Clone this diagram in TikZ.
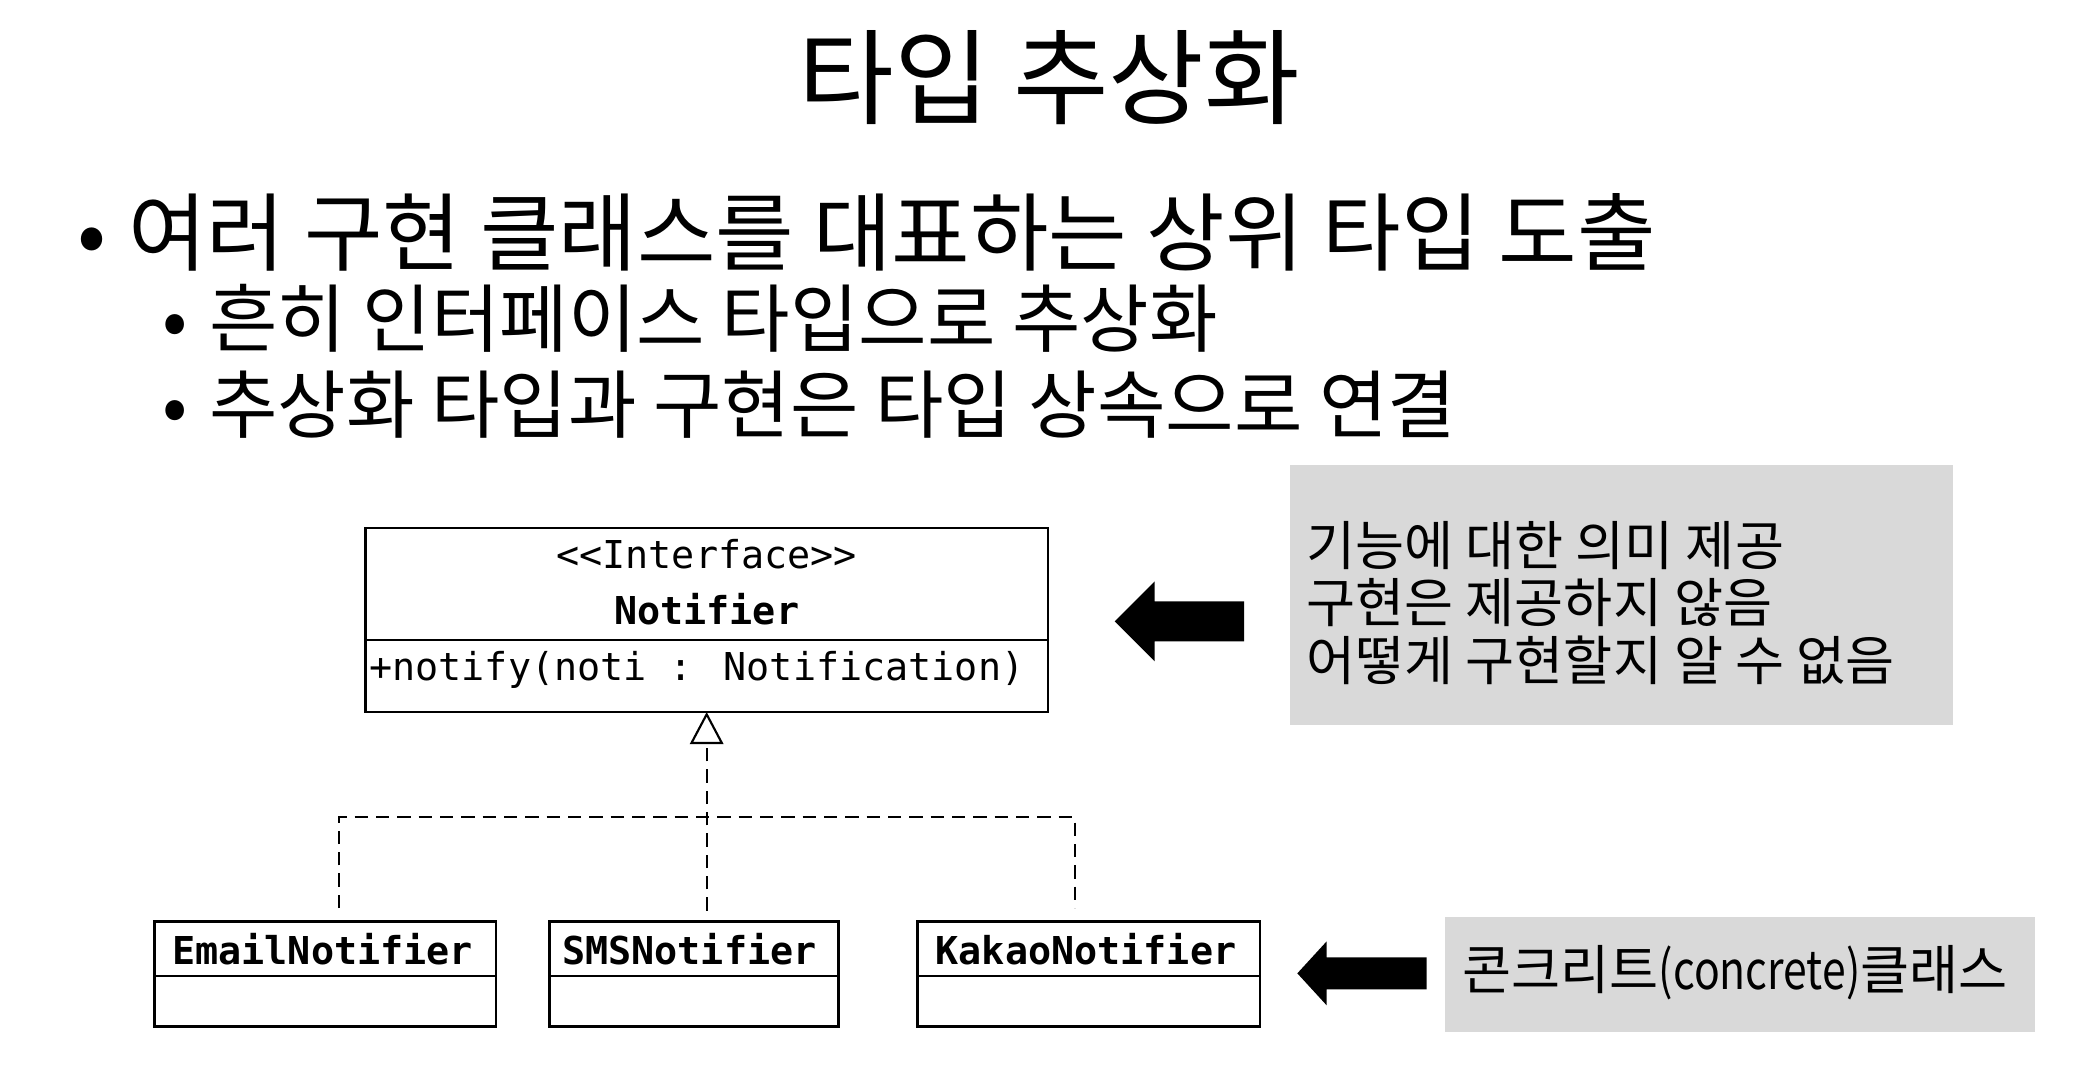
\documentclass[tikz,border=0pt]{standalone}
\usepackage{fontspec}
\newfontfamily\kr{Noto Sans CJK KR}
\newfontfamily\krnarrow[FakeStretch=0.8]{Noto Sans CJK KR}
\newfontfamily\mono{DejaVu Sans Mono}
\usetikzlibrary{arrows.meta}
\definecolor{notegray}{HTML}{D9D9D9}
\tikzset{
  txt/.style={inner sep=0pt, outer sep=0pt, anchor=base west},
  ctxt/.style={inner sep=0pt, outer sep=0pt, anchor=base},
  titlefont/.style={font=\kr\fontsize{39}{44}\selectfont},
  lvlone/.style={font=\kr\fontsize{32}{36}\selectfont},
  lvltwo/.style={font=\kr\fontsize{27.9}{32}\selectfont},
  notefont/.style={font=\kr\fontsize{20}{24}\selectfont},
  umlfont/.style={font=\mono\fontsize{14.4}{17}\selectfont},
  umlbold/.style={font=\mono\bfseries\fontsize{14.4}{17}\selectfont},
  umlbox/.style={draw=black, line width=0.9pt, fill=white, inner sep=0pt, outer sep=0pt},
  notebox/.style={fill=notegray, inner sep=0pt, outer sep=0pt},
  realize/.style={line width=0.7pt, dash pattern=on 5pt off 3pt},
  blockarrow/.style={fill=black},
}
\begin{document}
\begin{tikzpicture}[x=0.5pt,y=-0.5pt]
\useasboundingbox (0,0) rectangle (1560,816);

% title and bullets
\node[ctxt, titlefont] (title) at (787,87) {타입 추상화};
\node[ctxt, lvlone] (d1) at (69,198) {•};
\node[txt, lvlone] (b1) at (96,198) {여러 구현 클래스를 대표하는 상위 타입 도출};
\node[ctxt, lvltwo] (d2) at (131,260) {•};
\node[txt, lvltwo] (b2) at (157,260) {흔히 인터페이스 타입으로 추상화};
\node[ctxt, lvltwo] (d3) at (131,324) {•};
\node[txt, lvltwo] (b3) at (157,324) {추상화 타입과 구현은 타입 상속으로 연결};

% interface box
\node[umlbox, minimum width=256pt, minimum height=69pt] (iface) at (530,465) {};
\draw[line width=0.9pt] (iface.west |- 0,480) -- (iface.east |- 0,480);
\node[ctxt, umlfont] (stereo) at (530,426) {<<Interface>>};
\node[ctxt, umlbold] (iname) at (530,468) {Notifier};
\node[txt, umlfont] (op) at (277,510) {+notify(noti : Notification)};

% concrete classes
\node[umlbox, minimum width=128pt, minimum height=39.5pt] (email) at (244,730.5) {};
\draw[line width=0.9pt] (email.west |- 0,732) -- (email.east |- 0,732);
\node[ctxt, umlbold] (emailn) at (242,723) {EmailNotifier};

\node[umlbox, minimum width=108.5pt, minimum height=39.5pt] (sms) at (520.5,730.5) {};
\draw[line width=0.9pt] (sms.west |- 0,732) -- (sms.east |- 0,732);
\node[ctxt, umlbold] (smsn) at (517,723) {SMSNotifier};

\node[umlbox, minimum width=128.5pt, minimum height=39.5pt] (kakao) at (816.5,730.5) {};
\draw[line width=0.9pt] (kakao.west |- 0,732) -- (kakao.east |- 0,732);
\node[ctxt, umlbold] (kakaon) at (814.5,723) {KakaoNotifier};

% realization connectors
\coordinate (ce) at (254,681);
\coordinate (cs) at (530,683);
\coordinate (ck) at (806,681);
\draw[realize] (ce) -- (ce |- 0,613) -- (ck |- 0,613) -- (ck);
\draw[realize, -{Triangle[open, length=12pt, width=12.5pt, line width=0.8pt]}] (cs) -- (iface.south);

% notes
\node[notebox, minimum width=248.5pt, minimum height=97.5pt] (note1) at (1216,446) {};
\node[txt, notefont] (n1a) at (980,424) {기능에 대한 의미 제공};
\node[txt, notefont] (n1b) at (980,467) {구현은 제공하지 않음};
\node[txt, notefont] (n1c) at (980,510) {어떻게 구현할지 알 수 없음};

\node[notebox, minimum width=221pt, minimum height=43pt] (note2) at (1305,731) {};
\node[txt, notefont] (n2) at (1097,742) {콘크리트{\krnarrow(concrete)}클래스};

% block arrows
\fill[blockarrow] (836,466) -- (866,436) -- (866,451) -- (933,451) -- (933,481) -- (866,481) -- (866,496) -- cycle;
\fill[blockarrow] (973,730) -- (995,706) -- (995,718) -- (1070,718) -- (1070,742) -- (995,742) -- (995,754) -- cycle;
\end{tikzpicture}
\end{document}
